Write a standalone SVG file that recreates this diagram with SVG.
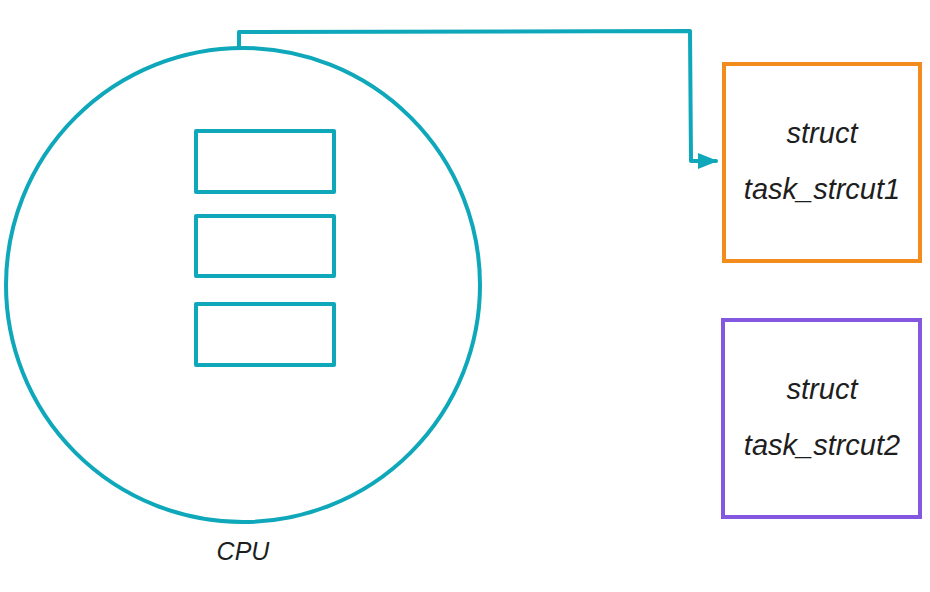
<svg xmlns="http://www.w3.org/2000/svg" width="930" height="592" viewBox="0 0 930 592">
<style>
.teal{fill:none;stroke:#0fa8ba;stroke-width:4;stroke-linejoin:round;stroke-linecap:round}
.lbl{font-family:"Liberation Sans","DejaVu Sans",sans-serif;font-style:italic;font-size:25px;fill:#1e1e1e;text-anchor:middle}
.big{font-size:29px}
</style>
<defs>
<marker id="arr" viewBox="0 0 10 10" refX="9" refY="5" markerWidth="5" markerHeight="5" orient="auto" markerUnits="strokeWidth">
<path d="M0,1 L10,5 L0,9 Z" fill="#0fa8ba"/>
</marker>
</defs>
<rect width="930" height="592" fill="#fff"/>
<g id="cpu">
<circle class="teal" cx="243" cy="285" r="237"/>
<rect class="teal" x="196" y="131" width="138" height="61"/>
<rect class="teal" x="196" y="216" width="138" height="60"/>
<rect class="teal" x="196" y="304" width="138" height="61"/>
<text class="lbl" x="243" y="560">CPU</text>
</g>
<g id="task1">
<rect x="724" y="64" width="196" height="197" fill="none" stroke="#f28c1c" stroke-width="4"/>
<text class="lbl big" x="822" y="143">struct</text>
<text class="lbl big" x="822" y="199">task_strcut1</text>
</g>
<g id="task2">
<rect x="723" y="320" width="197" height="197" fill="none" stroke="#8457e0" stroke-width="4"/>
<text class="lbl big" x="822" y="399">struct</text>
<text class="lbl big" x="822" y="455">task_strcut2</text>
</g>
<g id="connectors">
<path class="teal" d="M239,47 L239,32 L690,31 L691,161 L716,161" marker-end="url(#arr)"/>
</g>
</svg>
